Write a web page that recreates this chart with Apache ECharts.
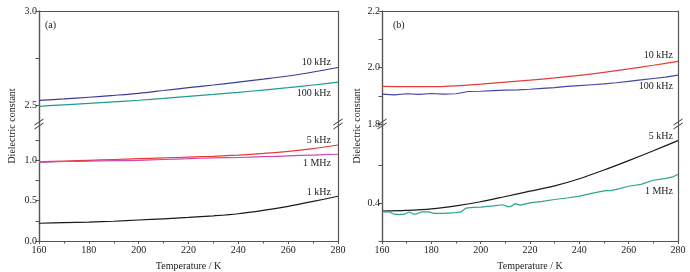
<!DOCTYPE html>
<html>
<head>
<meta charset="utf-8">
<script src="https://cdn.jsdelivr.net/npm/echarts@6/dist/echarts.min.js"></script>
<style>
  html, body { margin: 0; padding: 0; background: #fff; }
  #chart { width: 690px; height: 272px; }
</style>
</head>
<body>
<div id="chart"></div>
<script>
// temperature grid (K)
const temps = [160, 170, 180, 190, 200, 210, 220, 230, 240, 250, 260, 270, 280];

// panel (a)
const a10k  = [2.525, 2.533, 2.542, 2.552, 2.563, 2.578, 2.593, 2.607, 2.622, 2.638, 2.655, 2.676, 2.700];
const a100k = [2.494, 2.502, 2.510, 2.518, 2.526, 2.536, 2.547, 2.557, 2.568, 2.580, 2.593, 2.607, 2.622];
const a5k   = [0.980, 0.990, 1.000, 1.010, 1.020, 1.030, 1.040, 1.050, 1.065, 1.085, 1.110, 1.145, 1.190];
const a1M   = [0.975, 0.985, 0.990, 0.995, 1.000, 1.010, 1.020, 1.030, 1.035, 1.045, 1.055, 1.065, 1.075];
const a1k   = [0.220, 0.228, 0.235, 0.245, 0.260, 0.275, 0.292, 0.312, 0.338, 0.380, 0.430, 0.490, 0.555];

// panel (b)
const b10k  = [1.933, 1.932, 1.932, 1.935, 1.941, 1.948, 1.955, 1.963, 1.972, 1.983, 1.995, 2.008, 2.022];
const b100kT = [160, 165, 170, 175, 180, 185, 190, 195, 200, 205, 210, 215, 220, 225, 230, 235, 240, 245, 250, 255, 260, 265, 270, 275, 280];
const b100k  = [1.906, 1.903, 1.907, 1.905, 1.908, 1.906, 1.907, 1.915, 1.916, 1.918, 1.920, 1.921, 1.923, 1.926, 1.929, 1.933, 1.936, 1.939, 1.942, 1.946, 1.951, 1.956, 1.961, 1.966, 1.973];
const b5k   = [0.379, 0.381, 0.385, 0.393, 0.404, 0.418, 0.432, 0.446, 0.465, 0.488, 0.513, 0.539, 0.566];
const b1MT  = [160, 163, 165, 167, 169, 171, 173, 174, 176, 179, 181, 185, 190, 192, 194, 197, 200, 205, 209, 211, 212, 214, 216, 220, 225, 230, 235, 240, 245, 250, 253, 255, 260, 265, 270, 275, 278, 280];
const b1M   = [0.377, 0.377, 0.371, 0.370, 0.371, 0.377, 0.371, 0.372, 0.377, 0.377, 0.373, 0.373, 0.375, 0.377, 0.387, 0.389, 0.390, 0.393, 0.396, 0.391, 0.391, 0.399, 0.395, 0.401, 0.405, 0.410, 0.414, 0.419, 0.426, 0.433, 0.434, 0.437, 0.445, 0.450, 0.461, 0.466, 0.470, 0.477];

// tick / label values for the broken y axes
const aUpTicks = [2.5, 2.75, 3.0],  aUpLabels = [2.5, 3.0];
const aLoTicks = [0, 0.25, 0.5, 0.75, 1.0, 1.25], aLoLabels = [0, 0.5, 1.0];
const bUpTicks = [1.8, 1.9, 2.0, 2.1, 2.2], bUpLabels = [1.8, 2.0, 2.2];
const bLoTicks = [0.3, 0.4, 0.5], bLoLabels = [0.4];

const FONT = '"Liberation Serif", "Times New Roman", serif';
const TXT = '#222';
const AXC = '#555';

const pairs = (xs, ys) => xs.map((x, i) => [x, ys[i]]);

const chart = echarts.init(document.getElementById('chart'), null, { renderer: 'canvas' });

const gridA = { left: 39, right: 352 }, gridB = { left: 382, right: 12 };
const grids = [
  { ...gridA, top: 11, height: 113 },
  { ...gridA, top: 124, height: 117 },
  { ...gridB, top: 11, height: 113 },
  { ...gridB, top: 124, height: 117 }
];

function topX(g) {
  return {
    type: 'value', gridIndex: g, position: 'top', min: 160, max: 280,
    axisLine: { lineStyle: { color: AXC, width: 1 } },
    axisTick: { show: false }, axisLabel: { show: false }, splitLine: { show: false }
  };
}
function bottomX(g) {
  return {
    type: 'value', gridIndex: g, position: 'bottom', min: 160, max: 280, interval: 20,
    name: 'Temperature / K', nameLocation: 'middle', nameGap: 20,
    nameTextStyle: { fontFamily: FONT, fontSize: 10, color: TXT },
    axisLine: { lineStyle: { color: AXC, width: 1.2 } },
    axisTick: { length: 3, lineStyle: { color: AXC } },
    minorTick: { show: true, splitNumber: 2, length: 2.5, lineStyle: { color: AXC } },
    axisLabel: { fontFamily: FONT, fontSize: 10, color: TXT, margin: 4 },
    splitLine: { show: false }
  };
}
function leftY(g, min, max, ticks, labels) {
  return {
    type: 'value', gridIndex: g, position: 'left', min: min, max: max,
    axisLine: { show: true, lineStyle: { color: AXC, width: 1.4 } },
    axisTick: { show: true, length: 3.5, customValues: ticks, lineStyle: { color: AXC } },
    axisLabel: {
      fontFamily: FONT, fontSize: 10, color: TXT, margin: 2,
      customValues: labels, formatter: v => v.toFixed(1)
    },
    splitLine: { show: false }
  };
}
function rightY(g, min, max) {
  return {
    type: 'value', gridIndex: g, position: 'right', min: min, max: max,
    axisLine: { show: true, lineStyle: { color: AXC, width: 1.2 } },
    axisTick: { show: false }, axisLabel: { show: false }, splitLine: { show: false }
  };
}

function line(name, xi, yi, data, color) {
  return {
    name, type: 'line', xAxisIndex: xi, yAxisIndex: yi, data,
    showSymbol: false, smooth: 0.3, silent: true,
    lineStyle: { color, width: 1.2 }
  };
}

// curve labels and panel marks
function txt(x, y, text, align) {
  return {
    type: 'text', x, y,
    style: { text, fontFamily: FONT, fontSize: 10, fill: TXT, align: align || 'right', verticalAlign: 'middle' }
  };
}
function breakMark(x, y) {
  const s = [];
  [-2, 2].forEach(d => {
    s.push({ type: 'line', shape: { x1: x - 4.5, y1: y + d + 3, x2: x + 4.5, y2: y + d - 3 },
      style: { stroke: '#333', lineWidth: 1 } });
  });
  return s;
}

const graphics = [
  txt(331, 62, '10 kHz'), txt(331, 93, '100 kHz'),
  txt(331, 140, '5 kHz'), txt(331, 163, '1 MHz'), txt(331, 192, '1 kHz'),
  txt(673, 55, '10 kHz'), txt(673, 86, '100 kHz'),
  txt(673, 136, '5 kHz'), txt(673, 191, '1 MHz'),
  txt(45, 25, '(a)', 'left'), txt(393, 25, '(b)', 'left'),
  { type: 'text', x: 12, y: 126, rotation: Math.PI / 2,
    style: { text: 'Dielectric constant', fontFamily: FONT, fontSize: 10, fill: TXT, align: 'center', verticalAlign: 'middle' } },
  { type: 'text', x: 357, y: 126, rotation: Math.PI / 2,
    style: { text: 'Dielectric constant', fontFamily: FONT, fontSize: 10, fill: TXT, align: 'center', verticalAlign: 'middle' } },
  ...breakMark(39, 124), ...breakMark(338, 124),
  ...breakMark(382, 124), ...breakMark(678, 124)
];

chart.setOption({
  animation: false,
  backgroundColor: '#fff',
  grid: grids,
  xAxis: [topX(0), bottomX(1), topX(2), bottomX(3)],
  yAxis: [
    leftY(0, 2.4, 3.0, aUpTicks, aUpLabels),
    leftY(1, 0, 1.45, aLoTicks, aLoLabels),
    leftY(2, 1.8, 2.2, bUpTicks, bUpLabels),
    leftY(3, 0.3, 0.61, bLoTicks, bLoLabels),
    rightY(0, 2.4, 3.0), rightY(1, 0, 1.45), rightY(2, 1.8, 2.2), rightY(3, 0.3, 0.61)
  ],
  series: [
    line('a 10 kHz', 0, 0, pairs(temps, a10k), '#3c3c98'),
    line('a 100 kHz', 0, 0, pairs(temps, a100k), '#1e9e8a'),
    line('a 5 kHz', 1, 1, pairs(temps, a5k), '#e83a3a'),
    line('a 1 MHz', 1, 1, pairs(temps, a1M), '#d04aa8'),
    line('a 1 kHz', 1, 1, pairs(temps, a1k), '#1a1a1a'),
    line('b 10 kHz', 2, 2, pairs(temps, b10k), '#e83c3c'),
    { ...line('b 100 kHz', 2, 2, pairs(b100kT, b100k), '#4646a6'), smooth: false },
    line('b 5 kHz', 3, 3, pairs(temps, b5k), '#1a1a1a'),
    { ...line('b 1 MHz', 3, 3, pairs(b1MT, b1M), '#2aa58e'), smooth: false }
  ],
  graphic: graphics
});
</script>
</body>
</html>
